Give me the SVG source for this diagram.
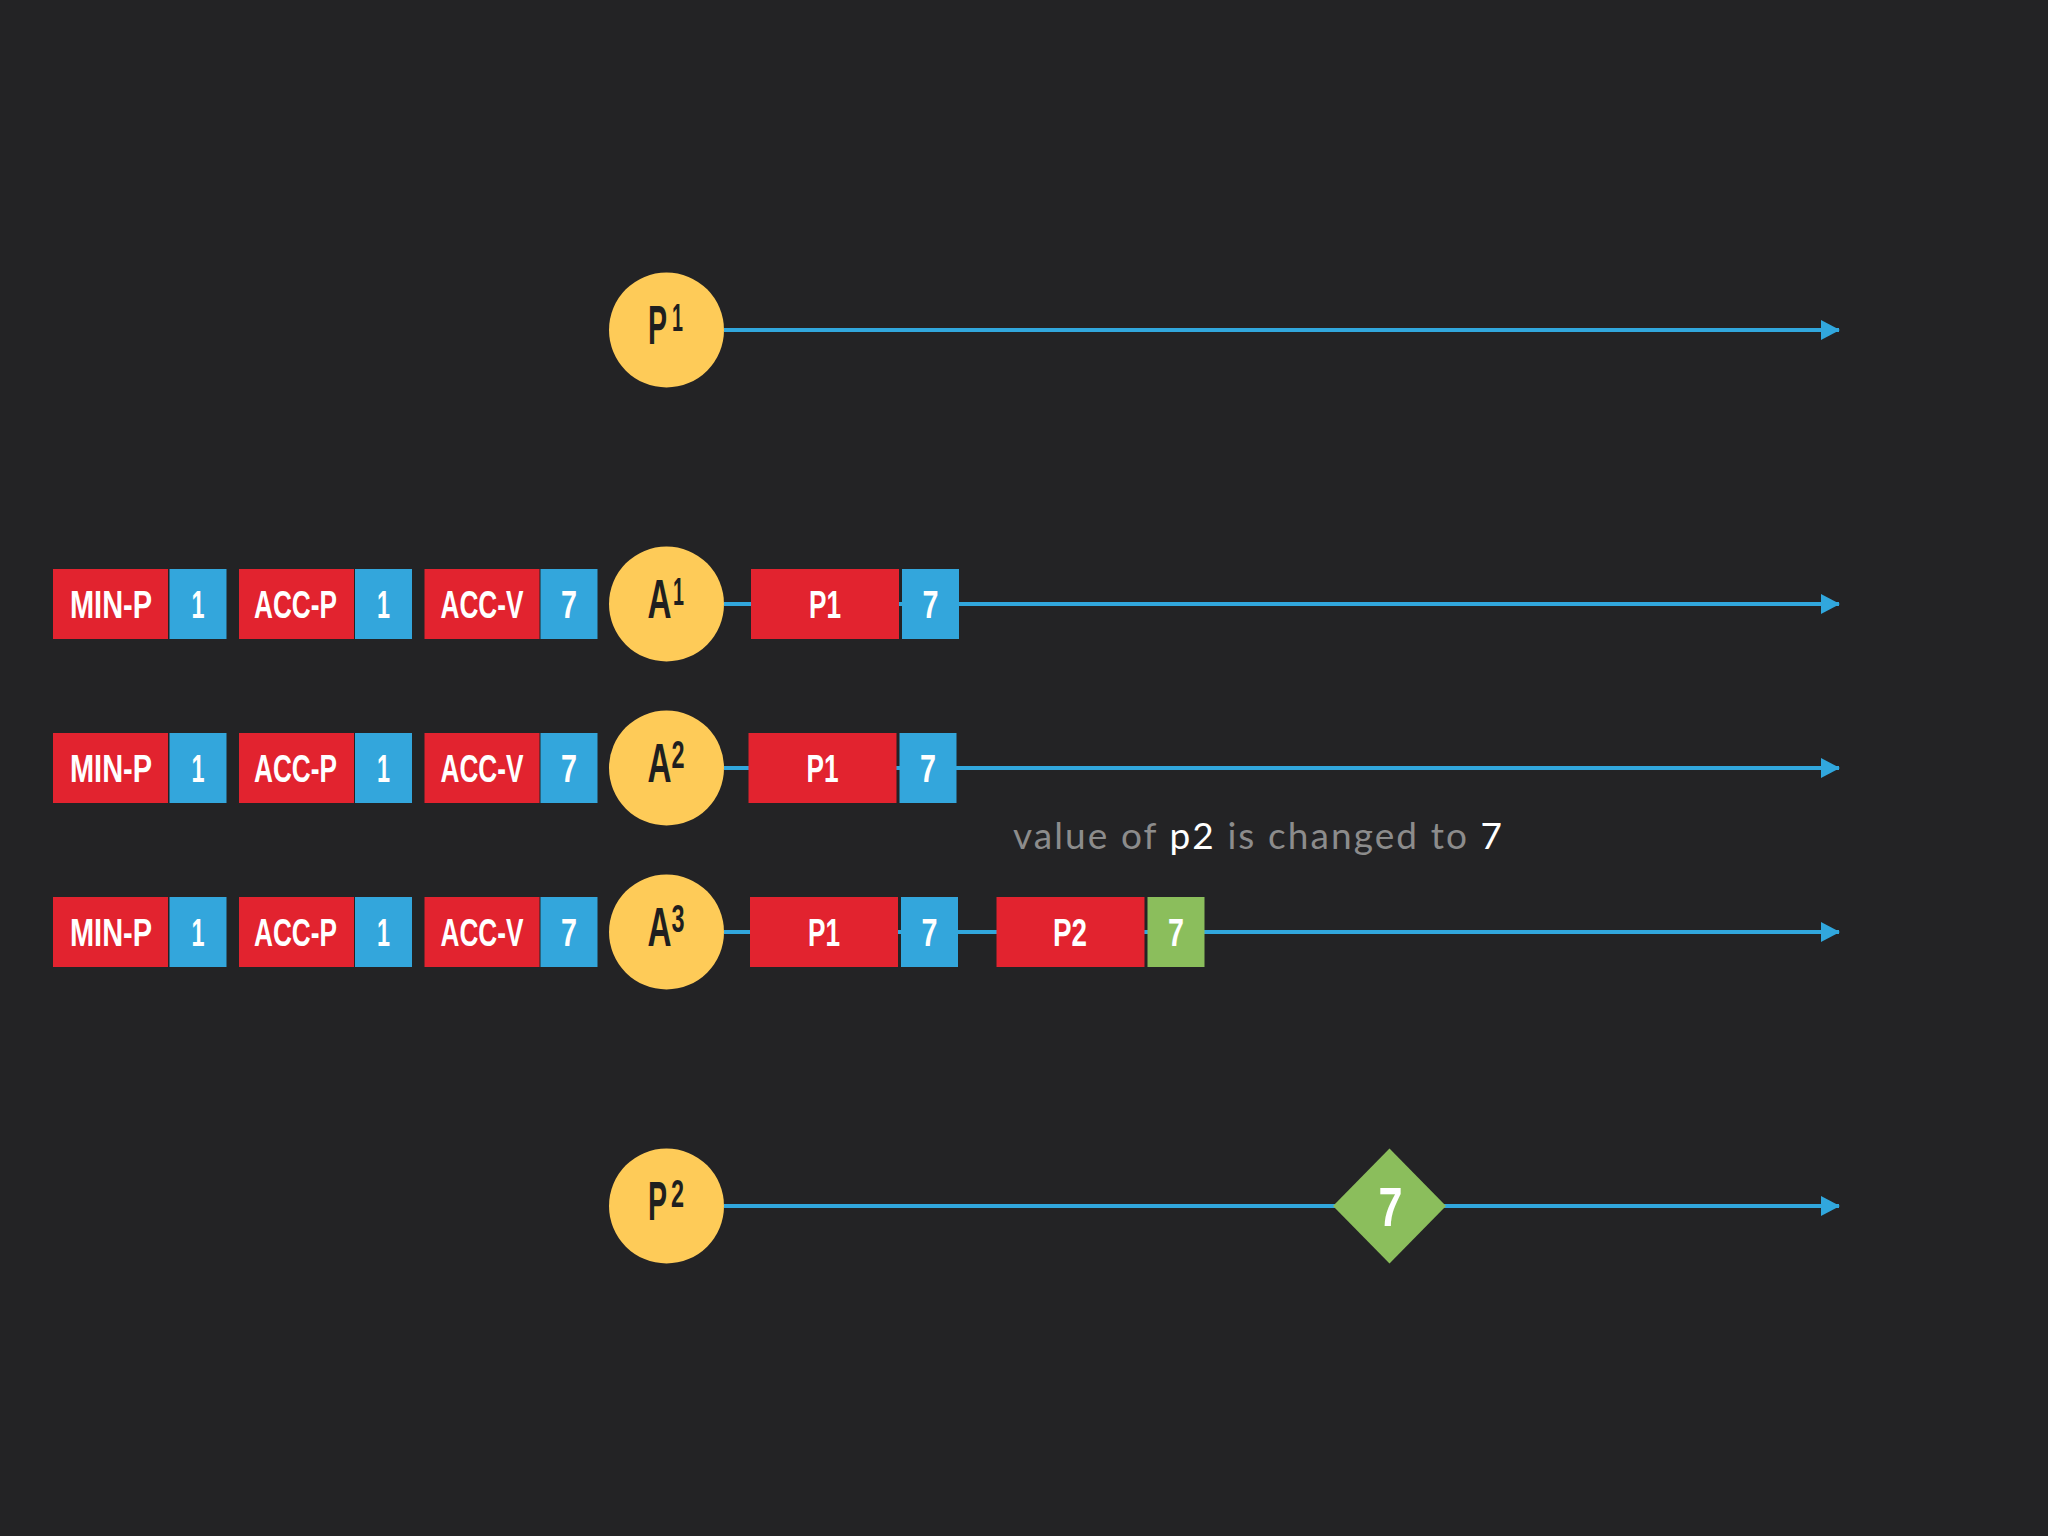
<svg xmlns="http://www.w3.org/2000/svg" width="2048" height="1536" viewBox="0 0 2048 1536">
<defs>
<marker id="arr" markerWidth="19" markerHeight="20" refX="18" refY="10" orient="auto" markerUnits="userSpaceOnUse">
<path d="M0,0 L19,10 L0,20 Z" fill="#31a7dd"/>
</marker>
</defs>
<style>
.bg{fill:#232325}
.line{stroke:#31a7dd;stroke-width:4;fill:none}
.red{fill:#e2232f}
.blue{fill:#33a6dc}
.green{fill:#8bbe5c}
.yel{fill:#fecb58}
.bt{font-family:"Liberation Sans",Arial,sans-serif;font-weight:bold;font-size:39px;fill:#ffffff;text-anchor:middle}
.ct{font-family:"Liberation Sans",Arial,sans-serif;font-weight:bold;font-size:56px;fill:#1f1f1f;text-anchor:middle}
.cs{font-family:"Liberation Sans",Arial,sans-serif;font-weight:bold;font-size:38px;fill:#1f1f1f;text-anchor:middle}
.note{font-family:Lato,"Open Sans",sans-serif;font-size:37px;fill:#8c8c8c}
</style>
<rect class="bg" x="0" y="0" width="2048" height="1536"/>

<g id="connectors">
<line class="line" x1="724" y1="330" x2="1839" y2="330" marker-end="url(#arr)"/>
<line class="line" x1="724" y1="604" x2="1839" y2="604" marker-end="url(#arr)"/>
<line class="line" x1="724" y1="768" x2="1839" y2="768" marker-end="url(#arr)"/>
<line class="line" x1="724" y1="932" x2="1839" y2="932" marker-end="url(#arr)"/>
<line class="line" x1="724" y1="1206" x2="1839" y2="1206" marker-end="url(#arr)"/>
</g>

<g id="P1">
<circle class="yel" cx="666.5" cy="330" r="57.5"/>
<text class="ct" transform="translate(657.5,344) scale(0.51,1)">P</text>
<text class="cs" transform="translate(677.5,331) scale(0.52,1)">1</text>
</g>

<g id="A1">
<circle class="yel" cx="666.5" cy="604" r="57.5"/>
<text class="ct" transform="translate(659.5,618) scale(0.594,1)">A</text>
<text class="cs" transform="translate(678.5,605) scale(0.52,1)">1</text>
</g>
<g id="A1-props">
<rect class="red" x="53" y="569" width="115" height="70"/>
<text class="bt" x="111" y="618" textLength="82" lengthAdjust="spacingAndGlyphs">MIN-P</text>
<rect class="blue" x="169.5" y="569" width="57" height="70"/>
<text class="bt" x="198" y="618" textLength="13" lengthAdjust="spacingAndGlyphs">1</text>
<rect class="red" x="239" y="569" width="115" height="70"/>
<text class="bt" x="295.5" y="618" textLength="83" lengthAdjust="spacingAndGlyphs">ACC-P</text>
<rect class="blue" x="355" y="569" width="57" height="70"/>
<text class="bt" x="383.5" y="618" textLength="13" lengthAdjust="spacingAndGlyphs">1</text>
<rect class="red" x="424.5" y="569" width="115" height="70"/>
<text class="bt" x="482" y="618" textLength="83" lengthAdjust="spacingAndGlyphs">ACC-V</text>
<rect class="blue" x="540.5" y="569" width="57" height="70"/>
<text class="bt" x="569" y="618" textLength="16" lengthAdjust="spacingAndGlyphs">7</text>
</g>
<g id="A1-P1">
<rect class="red" x="751" y="569" width="148" height="70"/>
<text class="bt" x="825" y="618" textLength="32" lengthAdjust="spacingAndGlyphs">P1</text>
<rect class="blue" x="902" y="569" width="57" height="70"/>
<text class="bt" x="930.5" y="618" textLength="16" lengthAdjust="spacingAndGlyphs">7</text>
</g>

<g id="A2">
<circle class="yel" cx="666.5" cy="768" r="57.5"/>
<text class="ct" transform="translate(659.5,782) scale(0.594,1)">A</text>
<text class="cs" transform="translate(678,768) scale(0.616,1)">2</text>
</g>
<g id="A2-props">
<rect class="red" x="53" y="733" width="115" height="70"/>
<text class="bt" x="111" y="782" textLength="82" lengthAdjust="spacingAndGlyphs">MIN-P</text>
<rect class="blue" x="169.5" y="733" width="57" height="70"/>
<text class="bt" x="198" y="782" textLength="13" lengthAdjust="spacingAndGlyphs">1</text>
<rect class="red" x="239" y="733" width="115" height="70"/>
<text class="bt" x="295.5" y="782" textLength="83" lengthAdjust="spacingAndGlyphs">ACC-P</text>
<rect class="blue" x="355" y="733" width="57" height="70"/>
<text class="bt" x="383.5" y="782" textLength="13" lengthAdjust="spacingAndGlyphs">1</text>
<rect class="red" x="424.5" y="733" width="115" height="70"/>
<text class="bt" x="482" y="782" textLength="83" lengthAdjust="spacingAndGlyphs">ACC-V</text>
<rect class="blue" x="540.5" y="733" width="57" height="70"/>
<text class="bt" x="569" y="782" textLength="16" lengthAdjust="spacingAndGlyphs">7</text>
</g>
<g id="A2-P1">
<rect class="red" x="748.5" y="733" width="148" height="70"/>
<text class="bt" x="822.5" y="782" textLength="32" lengthAdjust="spacingAndGlyphs">P1</text>
<rect class="blue" x="899.5" y="733" width="57" height="70"/>
<text class="bt" x="928" y="782" textLength="16" lengthAdjust="spacingAndGlyphs">7</text>
</g>

<g id="note">
<text class="note" x="1013" y="849" textLength="489" lengthAdjust="spacing">value of <tspan fill="#ffffff">p2</tspan> is changed to <tspan fill="#ffffff">7</tspan></text>
</g>

<g id="A3">
<circle class="yel" cx="666.5" cy="932" r="57.5"/>
<text class="ct" transform="translate(659.5,946) scale(0.594,1)">A</text>
<text class="cs" transform="translate(678,932) scale(0.616,1)">3</text>
</g>
<g id="A3-props">
<rect class="red" x="53" y="897" width="115" height="70"/>
<text class="bt" x="111" y="946" textLength="82" lengthAdjust="spacingAndGlyphs">MIN-P</text>
<rect class="blue" x="169.5" y="897" width="57" height="70"/>
<text class="bt" x="198" y="946" textLength="13" lengthAdjust="spacingAndGlyphs">1</text>
<rect class="red" x="239" y="897" width="115" height="70"/>
<text class="bt" x="295.5" y="946" textLength="83" lengthAdjust="spacingAndGlyphs">ACC-P</text>
<rect class="blue" x="355" y="897" width="57" height="70"/>
<text class="bt" x="383.5" y="946" textLength="13" lengthAdjust="spacingAndGlyphs">1</text>
<rect class="red" x="424.5" y="897" width="115" height="70"/>
<text class="bt" x="482" y="946" textLength="83" lengthAdjust="spacingAndGlyphs">ACC-V</text>
<rect class="blue" x="540.5" y="897" width="57" height="70"/>
<text class="bt" x="569" y="946" textLength="16" lengthAdjust="spacingAndGlyphs">7</text>
</g>
<g id="A3-P1">
<rect class="red" x="750" y="897" width="148" height="70"/>
<text class="bt" x="824" y="946" textLength="32" lengthAdjust="spacingAndGlyphs">P1</text>
<rect class="blue" x="901" y="897" width="57" height="70"/>
<text class="bt" x="929.5" y="946" textLength="16" lengthAdjust="spacingAndGlyphs">7</text>
</g>
<g id="A3-P2">
<rect class="red" x="996.5" y="897" width="148" height="70"/>
<text class="bt" x="1070" y="946" textLength="34" lengthAdjust="spacingAndGlyphs">P2</text>
<rect class="green" x="1147.5" y="897" width="57" height="70"/>
<text class="bt" x="1176" y="946" textLength="16" lengthAdjust="spacingAndGlyphs">7</text>
</g>

<g id="P2">
<circle class="yel" cx="666.5" cy="1206" r="57.5"/>
<text class="ct" transform="translate(657.5,1220) scale(0.51,1)">P</text>
<text class="cs" transform="translate(677.5,1206.5) scale(0.616,1)">2</text>
</g>

<g id="P2-value">
<polygon class="green" points="1333,1206 1389.5,1148.5 1446,1206 1389.5,1263.5"/>
<text class="bt" x="1390.5" y="1226" style="font-size:56px" textLength="24" lengthAdjust="spacingAndGlyphs">7</text>
</g>
</svg>
